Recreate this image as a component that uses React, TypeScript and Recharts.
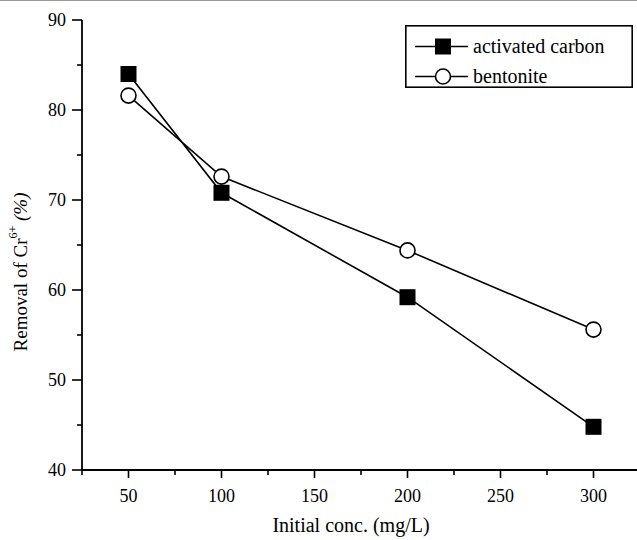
import React from "react";
import { Label, Legend, Line, LineChart, XAxis, YAxis } from "recharts";

// initial Cr6+ concentration (mg/L)
const conc = [50, 100, 200, 300];
// removal of Cr6+ (%)
const activatedCarbon = [84.0, 70.8, 59.2, 44.8];
const bentonite = [81.6, 72.6, 64.4, 55.6];

const xMajorTicks = [50, 100, 150, 200, 250, 300];
const xMinorTicks = [25, 75, 125, 175, 225, 275, 325];
const yMajorTicks = [40, 50, 60, 70, 80, 90];
const yMinorTicks = [45, 55, 65, 75, 85];

const seriesNames = ["activated carbon", "bentonite"];

const FONT = "'Liberation Serif', 'Times New Roman', serif";
const txt = { fontFamily: FONT };

const data = conc.map((c, i) => ({
  conc: c,
  ac: activatedCarbon[i],
  bent: bentonite[i],
}));

const xTicks = [...xMajorTicks, ...xMinorTicks].sort((a, b) => a - b);
const yTicks = [...yMajorTicks, ...yMinorTicks].sort((a, b) => a - b);

const SquareDot = (props: any) => {
  const { cx, cy } = props;
  if (cx == null || cy == null) return null;
  return <rect x={cx - 8} y={cy - 8} width={16} height={16} fill="#000" />;
};

const CircleDot = (props: any) => {
  const { cx, cy } = props;
  if (cx == null || cy == null) return null;
  return <circle cx={cx} cy={cy} r={7.5} fill="#fff" stroke="#000" strokeWidth={1.6} />;
};

const BottomTick = (props: any) => {
  const { x, y, payload } = props;
  const major = xMajorTicks.includes(payload.value);
  return (
    <g>
      <line x1={x} x2={x} y1={y} y2={y + (major ? 8 : 5)} stroke="#000" strokeWidth={1.6} />
      {major && (
        <text x={x} y={y + 32} textAnchor="middle" style={txt} fontSize={18} fill="#000">
          {payload.value}
        </text>
      )}
    </g>
  );
};

const TopTick = (props: any) => {
  const { x, y, payload } = props;
  const major = xMajorTicks.includes(payload.value);
  return <line x1={x} x2={x} y1={y} y2={y + (major ? 4 : 3)} stroke="#000" strokeWidth={1.4} />;
};

const LeftTick = (props: any) => {
  const { x, y, payload } = props;
  const major = yMajorTicks.includes(payload.value);
  return (
    <g>
      <line x1={x - (major ? 10 : 5)} x2={x} y1={y} y2={y} stroke="#000" strokeWidth={1.6} />
      {major && (
        <text x={x - 16} y={y + 6} textAnchor="end" style={txt} fontSize={18} fill="#000">
          {payload.value}
        </text>
      )}
    </g>
  );
};

const LegendBox = () => (
  <svg width={228} height={63} style={{ display: "block", fontFamily: FONT }}>
    <rect x={0.8} y={0.8} width={226.4} height={61.4} fill="#fff" stroke="#000" strokeWidth={1.6} />
    {seriesNames.map((name, i) => {
      const cy = 21.5 + i * 30;
      return (
        <g key={name}>
          <line x1={10} x2={63} y1={cy} y2={cy} stroke="#000" strokeWidth={1.6} />
          {i === 0 ? <SquareDot cx={38} cy={cy} /> : <CircleDot cx={38} cy={cy} />}
          <text x={68} y={cy + 6} style={txt} fontSize={20} fill="#000">
            {name}
          </text>
        </g>
      );
    })}
  </svg>
);

const YTitle = (props: any) => {
  const vb = props.viewBox || { x: 0, y: 20, width: 82, height: 450 };
  const cx = vb.x + 20;
  const cy = vb.y + vb.height / 2 + 27;
  return (
    <text
      x={cx}
      y={cy}
      transform={`rotate(-90, ${cx}, ${cy})`}
      textAnchor="middle"
      dominantBaseline="central"
      style={txt}
      fontSize={19}
      fill="#000"
    >
      Removal of Cr
      <tspan fontSize={12} dy={-7}>
        6+
      </tspan>
      <tspan dy={7} fontStyle="italic">
        {" (%)"}
      </tspan>
    </text>
  );
};

const XTitle = (props: any) => {
  const vb = props.viewBox || { x: 82, y: 470, width: 558, height: 70 };
  return (
    <text
      x={vb.x + vb.width / 2 - 10}
      y={vb.y + 62}
      textAnchor="middle"
      style={txt}
      fontSize={20}
      fill="#000"
    >
      Initial conc. (mg/L)
    </text>
  );
};

export default function App() {
  return (
    <div
      style={{
        position: "absolute",
        left: 0,
        top: 0,
        width: 637,
        height: 540,
        overflow: "hidden",
        background: "#fff",
        fontFamily: FONT,
      }}
    >
      <div style={{ position: "absolute", left: 0, top: 0, width: 637, height: 1, background: "#999" }} />
      <LineChart
        width={660}
        height={540}
        data={data}
        margin={{ top: 20, right: 20, bottom: 0, left: 0 }}
        style={{ fontFamily: FONT }}
      >
        <XAxis
          dataKey="conc"
          type="number"
          domain={[25, 325]}
          ticks={xTicks}
          interval={0}
          height={70}
          tickSize={0}
          tickMargin={0}
          tickLine={false}
          tick={<BottomTick />}
          axisLine={{ stroke: "#000", strokeWidth: 1.8 }}
        >
          <Label content={<XTitle />} />
        </XAxis>
        <XAxis
          xAxisId="top"
          orientation="top"
          dataKey="conc"
          type="number"
          domain={[25, 325]}
          ticks={xTicks}
          interval={0}
          height={0}
          tickSize={0}
          tickMargin={0}
          tickLine={false}
          tick={<TopTick />}
          axisLine={{ stroke: "#000", strokeWidth: 1.8 }}
        />
        <YAxis
          type="number"
          domain={[40, 90]}
          ticks={yTicks}
          interval={0}
          width={82}
          tickSize={0}
          tickMargin={0}
          tickLine={false}
          tick={<LeftTick />}
          axisLine={{ stroke: "#000", strokeWidth: 1.8 }}
        >
          <Label content={<YTitle />} />
        </YAxis>
        <Legend
          layout="vertical"
          align="center"
          verticalAlign="middle"
          wrapperStyle={{ left: 405, top: 25, width: 228, height: 63 }}
          content={<LegendBox />}
        />
        <Line
          dataKey="ac"
          name={seriesNames[0]}
          stroke="#000"
          strokeWidth={1.6}
          type="linear"
          dot={<SquareDot />}
          isAnimationActive={false}
        />
        <Line
          dataKey="bent"
          name={seriesNames[1]}
          stroke="#000"
          strokeWidth={1.6}
          type="linear"
          dot={<CircleDot />}
          isAnimationActive={false}
        />
      </LineChart>
    </div>
  );
}
